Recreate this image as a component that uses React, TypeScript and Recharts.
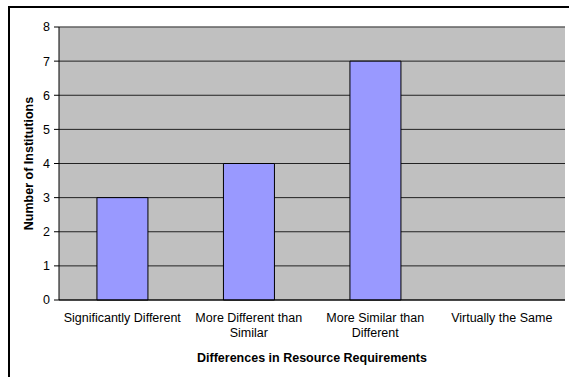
import React from "react";
import {
  BarChart,
  Bar,
  XAxis,
  YAxis,
  CartesianGrid,
  ReferenceLine,
} from "recharts";

// Excel-style column chart: institutions per answer
const categories = [
  "Significantly Different",
  "More Different than Similar",
  "More Similar than Different",
  "Virtually the Same",
];
// how the category labels wrap under the axis
const tickLabelLines = [
  ["Significantly Different"],
  ["More Different than", "Similar"],
  ["More Similar than", "Different"],
  ["Virtually the Same"],
];
const counts = [3, 4, 7, 0];
const yTicks = [0, 1, 2, 3, 4, 5, 6, 7, 8];
const boundaryTicks = [0, 1, 2, 3, 4];

const data = categories.map((name, i) => ({ name, count: counts[i] }));

const FONT = "Arial, 'Liberation Sans', sans-serif";
const FS = 12.5;

function CategoryTick({ x, y, payload }: { x?: number; y?: number; payload?: { value: string; index?: number } }) {
  const idx = categories.indexOf(payload?.value ?? "");
  const lines = tickLabelLines[idx] ?? [payload?.value ?? ""];
  return (
    <text x={x} y={(y ?? 0) + 14} textAnchor="middle" fontSize={FS} fontFamily={FONT} fill="#000">
      {lines.map((l, i) => (
        <tspan key={i} x={x} dy={i === 0 ? 0 : 15}>
          {l}
        </tspan>
      ))}
    </text>
  );
}

export default function App() {
  return (
    <div style={{ position: "fixed", left: 0, top: 0, width: 569, height: 377, background: "#fff", overflow: "hidden" }}>
      <div
        style={{
          position: "absolute",
          left: 8,
          top: 6,
          width: 600,
          height: 400,
          border: "2px solid #000",
          boxSizing: "border-box",
        }}
      />
      <BarChart
        width={569}
        height={377}
        data={data}
        margin={{ top: 27, right: 4, left: 0, bottom: 0 }}
        barCategoryGap="30%"
        style={{ position: "absolute", left: 0, top: 0 }}
      >
        <CartesianGrid vertical={false} horizontal fill="#C0C0C0" stroke="#222" strokeWidth={1} fillOpacity={1} />
        <XAxis
          xAxisId="bounds"
          type="number"
          domain={[0, 4]}
          ticks={boundaryTicks}
          tick={false}
          axisLine={false}
          tickLine={{ stroke: "#000" }}
          tickSize={5}
          height={0}
        />
        <XAxis
          dataKey="name"
          interval={0}
          tick={<CategoryTick />}
          tickLine={false}
          axisLine={{ stroke: "#000" }}
          height={77}
          label={{
            value: "Differences in Resource Requirements",
            position: "insideBottom",
            offset: 15,
            fontSize: FS,
            fontWeight: "bold",
            fontFamily: FONT,
            fill: "#000",
          }}
        />
        <XAxis xAxisId="top" orientation="top" dataKey="name" tick={false} tickLine={false} axisLine={{ stroke: "#808080" }} height={0} />
        <YAxis
          domain={[0, 8]}
          ticks={yTicks}
          interval={0}
          width={59}
          tickSize={5}
          tickMargin={4}
          axisLine={{ stroke: "#000" }}
          tickLine={{ stroke: "#000" }}
          tick={{ fontSize: FS, fontFamily: FONT, fill: "#000" }}
          label={{
            value: "Number of Institutions",
            angle: -90,
            position: "insideLeft",
            offset: 29,
            fontSize: FS,
            fontWeight: "bold",
            fontFamily: FONT,
            fill: "#000",
            style: { textAnchor: "middle" },
          }}
        />
        <YAxis yAxisId="right" orientation="right" domain={[0, 8]} tick={false} tickLine={false} axisLine={{ stroke: "#808080" }} width={0} />
        <ReferenceLine y={8} stroke="#808080" />
        <Bar dataKey="count" fill="#9999FF" stroke="#000" strokeWidth={1} isAnimationActive={false} />
      </BarChart>
    </div>
  );
}
